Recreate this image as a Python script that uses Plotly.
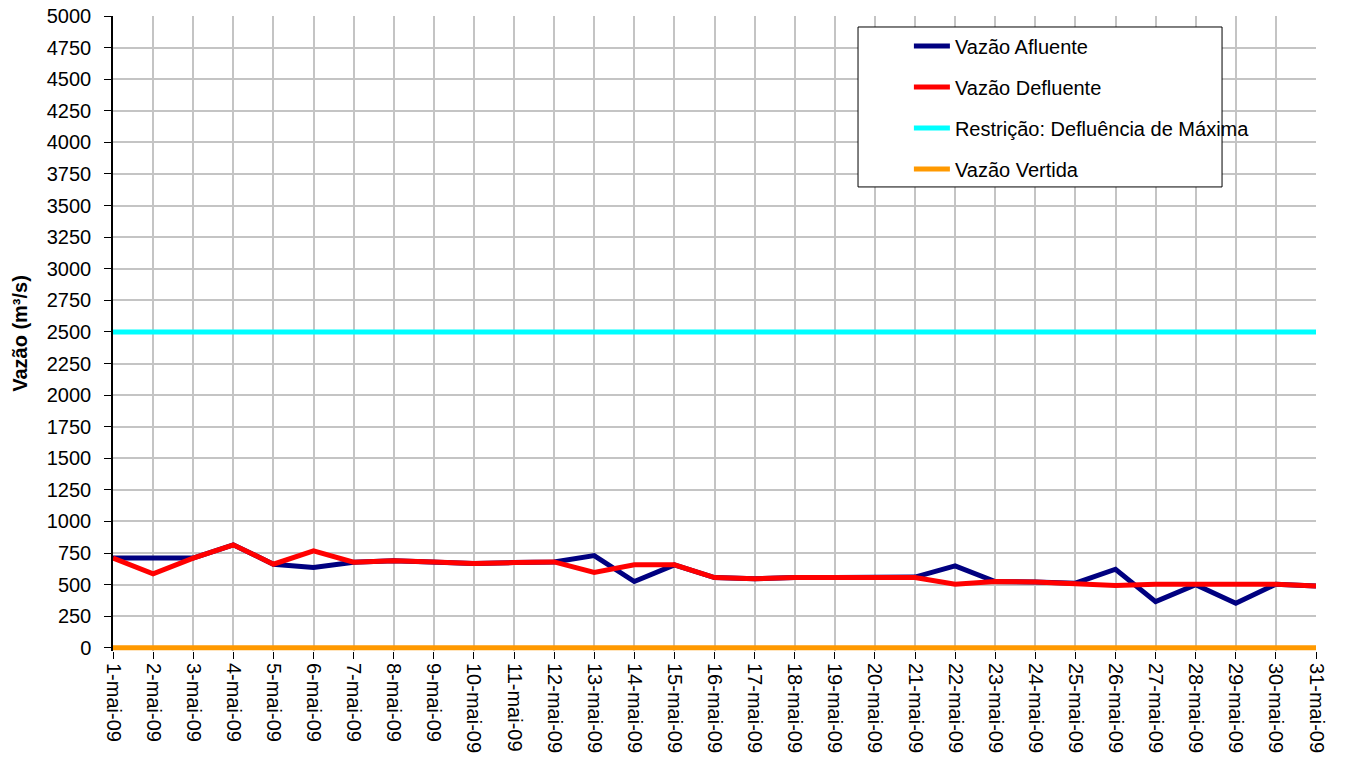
import plotly.graph_objects as go

dias = [f"{d}-mai-09" for d in range(1, 32)]

vazao_afluente = [710, 710, 710, 815, 662, 635, 678, 690, 680, 667, 675,
                  680, 730, 525, 657, 556, 546, 556, 556, 556, 560,
                  649, 525, 522, 512, 622, 366, 500, 353, 504, 490]
vazao_defluente = [710, 585, 710, 815, 662, 767, 678, 690, 680, 667, 675,
                   680, 596, 657, 657, 556, 546, 556, 556, 556, 556,
                   504, 525, 522, 512, 493, 504, 504, 504, 504, 490]
restricao_max = [2500] * 31
vazao_vertida = [0] * 31

y_ticks = list(range(0, 5001, 250))

FONT = "Liberation Sans, Arial, sans-serif"

fig = go.Figure()
series = [
    ("Vazão Afluente", vazao_afluente, "#000080"),
    ("Vazão Defluente", vazao_defluente, "#ff0000"),
    ("Restrição: Defluência de Máxima", restricao_max, "#00ffff"),
    ("Vazão Vertida", vazao_vertida, "#ff9900"),
]
for i, (name, vals, col) in enumerate(series):
    fig.add_trace(go.Scatter(
        x=dias, y=vals, name=name, mode="lines",
        line=dict(color=col, width=5),
        legendgroup=f"g{i}",
    ))

fig.update_layout(
    width=1345, height=770,
    margin=dict(l=113, r=29, t=16, b=119),
    paper_bgcolor="white", plot_bgcolor="white",
    font=dict(family=FONT, size=20, color="black"),
    showlegend=True,
    legend=dict(
        x=0.6616, y=0.9835, xanchor="left", yanchor="top",
        bgcolor="rgba(0,0,0,0)", borderwidth=0,
        font=dict(family=FONT, size=20, color="black"),
        tracegroupgap=12, itemwidth=36,
    ),
    shapes=[dict(
        type="rect", xref="paper", yref="paper",
        x0=0.6193, x1=0.9219, y0=0.7308, y1=0.9827,
        line=dict(color="black", width=1), fillcolor="white", layer="above",
    )],
)
fig.update_xaxes(
    type="category", range=[0, 30], tickangle=90, automargin=False,
    showgrid=True, gridcolor="#c4c4c4", gridwidth=1.5,
    showline=False,
    ticks="outside", ticklen=7, tickcolor="black",
    tickfont=dict(family=FONT, size=20),
    zeroline=False,
)
fig.update_yaxes(
    range=[-25, 5000], tickvals=y_ticks, ticktext=[str(v) for v in y_ticks],
    automargin=False,
    showgrid=True, gridcolor="#c4c4c4", gridwidth=1.5,
    showline=True, linecolor="black", linewidth=1.5,
    ticks="outside", ticklen=7, tickcolor="black",
    tickfont=dict(family=FONT, size=20), ticklabelstandoff=9,
    title=dict(text="<b>Vazão (m³/s)</b>", font=dict(family=FONT, size=20), standoff=14),
    zeroline=False,
)

fig.write_html("out.html", config={"displayModeBar": False},
               post_script="document.body.style.margin='0';")
